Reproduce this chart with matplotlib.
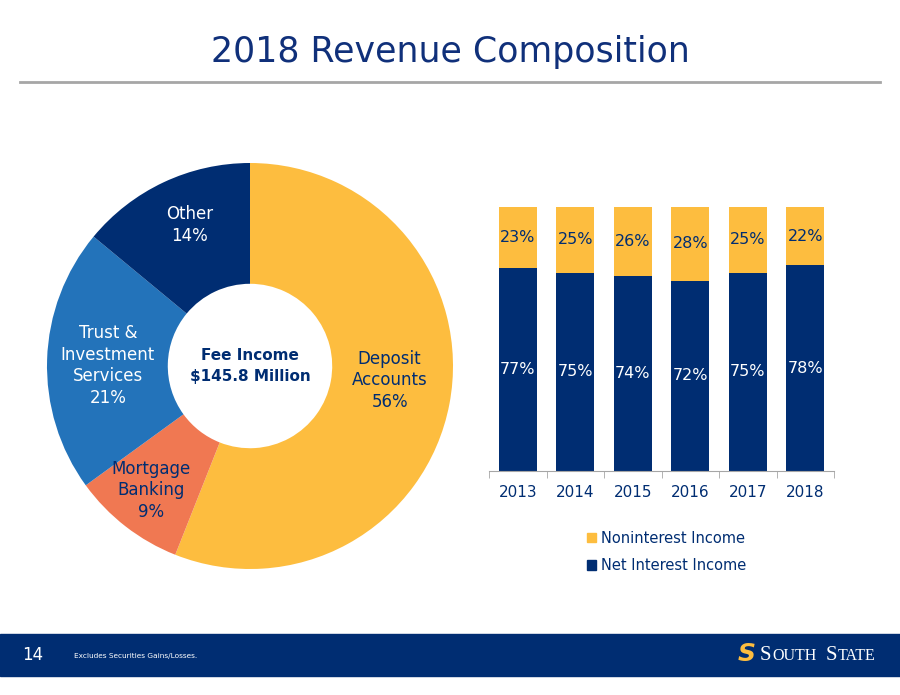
import matplotlib
matplotlib.use("Agg")
import matplotlib.pyplot as plt
from matplotlib.patches import Rectangle, Patch
from matplotlib.lines import Line2D
import numpy as np

plt.rcParams['font.family'] = ['DejaVu Sans']

# data
pie_labels = ["Deposit\nAccounts", "Mortgage\nBanking", "Trust &\nInvestment\nServices", "Other"]
pie_values = [56, 9, 21, 14]
years = ["2013", "2014", "2015", "2016", "2017", "2018"]
net_interest = [77, 75, 74, 72, 75, 78]
noninterest = [23, 25, 26, 28, 25, 22]

navy = "#002D72"
yellow = "#FDBD3F"
blue = "#2373BA"
orange = "#F07852"
pie_colors = [yellow, orange, blue, navy]
pie_txt = [navy, navy, "white", "white"]
# small nudges of the data labels (axes units), like the hand-placed originals
pie_nudge = [(0.0, 0.06), (-0.06, -0.06), (0.0, -0.02), (0.0, 0.06)]

W, H = 900, 695
fig = plt.figure(figsize=(9, 6.95), dpi=100)

def fx(px):
    return px / W

def fy(py):
    return 1 - py / H

# title + rule
fig.text(0.5, fy(52), "2018 Revenue Composition", ha="center", va="center",
         fontsize=25, color="#10307A")
fig.add_artist(Line2D([fx(20), fx(880)], [fy(82), fy(82)], color="#A6A6A6", lw=2))

# donut
r_px = 203
cx, cy = 250, 366
axp = fig.add_axes([fx(cx - r_px), fy(cy + r_px), 2 * r_px / W, 2 * r_px / H])
wedges, _ = axp.pie(pie_values, colors=pie_colors, startangle=90, counterclock=False,
                    radius=1, wedgeprops=dict(width=0.595, edgecolor="none"))
axp.set_xlim(-1, 1)
axp.set_ylim(-1, 1)
axp.axis("off")
for w, lab, v, c, nd in zip(wedges, pie_labels, pie_values, pie_txt, pie_nudge):
    ang = np.deg2rad((w.theta1 + w.theta2) / 2)
    axp.text(0.7 * np.cos(ang) + nd[0], 0.7 * np.sin(ang) + nd[1], f"{lab}\n{v}%",
             ha="center", va="center", fontsize=12, color=c, linespacing=1.25)
axp.text(0, 0, "Fee Income\n$145.8 Million", ha="center", va="center",
         fontsize=11, fontweight="bold", color=navy, linespacing=1.45)

# stacked bars
axb = fig.add_axes([fx(489), fy(471), 345 / W, 264 / H])
x = np.arange(len(years))
b1 = axb.bar(x, net_interest, width=0.66, color=navy, label="Net Interest Income")
b2 = axb.bar(x, noninterest, width=0.66, bottom=net_interest, color=yellow,
             label="Noninterest Income")
axb.bar_label(b1, labels=[f"{v}%" for v in net_interest], label_type="center",
              color="white", fontsize=11.5)
axb.bar_label(b2, labels=[f"{v}%" for v in noninterest], label_type="center",
              color=navy, fontsize=11.5)
axb.set_xlim(-0.5, len(years) - 0.5)
axb.set_ylim(0, 100)
for s in ["top", "right", "left"]:
    axb.spines[s].set_visible(False)
axb.spines["bottom"].set_color("#A6A6A6")
axb.set_yticks([])
axb.set_xticks(x)
axb.set_xticklabels(years, color=navy, fontsize=11)
axb.tick_params(axis="x", which="major", length=0, pad=10)
axb.set_xticks(np.arange(-0.5, len(years)), minor=True)
axb.tick_params(axis="x", which="minor", length=5, color="#A6A6A6")

axb.legend(handles=[Patch(color=yellow), Patch(color=navy)],
           labels=["Noninterest Income", "Net Interest Income"],
           loc="center", bbox_to_anchor=(fx(667), fy(552)),
           bbox_transform=fig.transFigure, frameon=False, fontsize=10.5,
           handlelength=0.6, handleheight=0.6, handletextpad=0.35,
           labelspacing=0.85, labelcolor=navy)

# footer band
fig.add_artist(Rectangle((0, fy(676)), 1, (676 - 634) / H, transform=fig.transFigure,
                         color=navy, zorder=0))
fig.text(fx(33), fy(655), "14", ha="center", va="center", fontsize=12, color="white")
fig.text(fx(74), fy(656), "Excludes Securities Gains/Losses.", ha="left", va="center",
         fontsize=5.3, color="white")
fig.text(fx(747), fy(654), "S", ha="center", va="center", fontsize=18,
         fontweight="bold", style="italic", color=yellow)
fig.text(fx(760), fy(655), "S", ha="left", va="center", fontsize=15,
         family="Liberation Serif", color="white")
fig.text(fx(772), fy(656), "OUTH", ha="left", va="center", fontsize=11.5,
         family="Liberation Serif", color="white")
fig.text(fx(826), fy(655), "S", ha="left", va="center", fontsize=15,
         family="Liberation Serif", color="white")
fig.text(fx(838), fy(656), "TATE", ha="left", va="center", fontsize=11.5,
         family="Liberation Serif", color="white")

fig.savefig("out.png", dpi=100)
